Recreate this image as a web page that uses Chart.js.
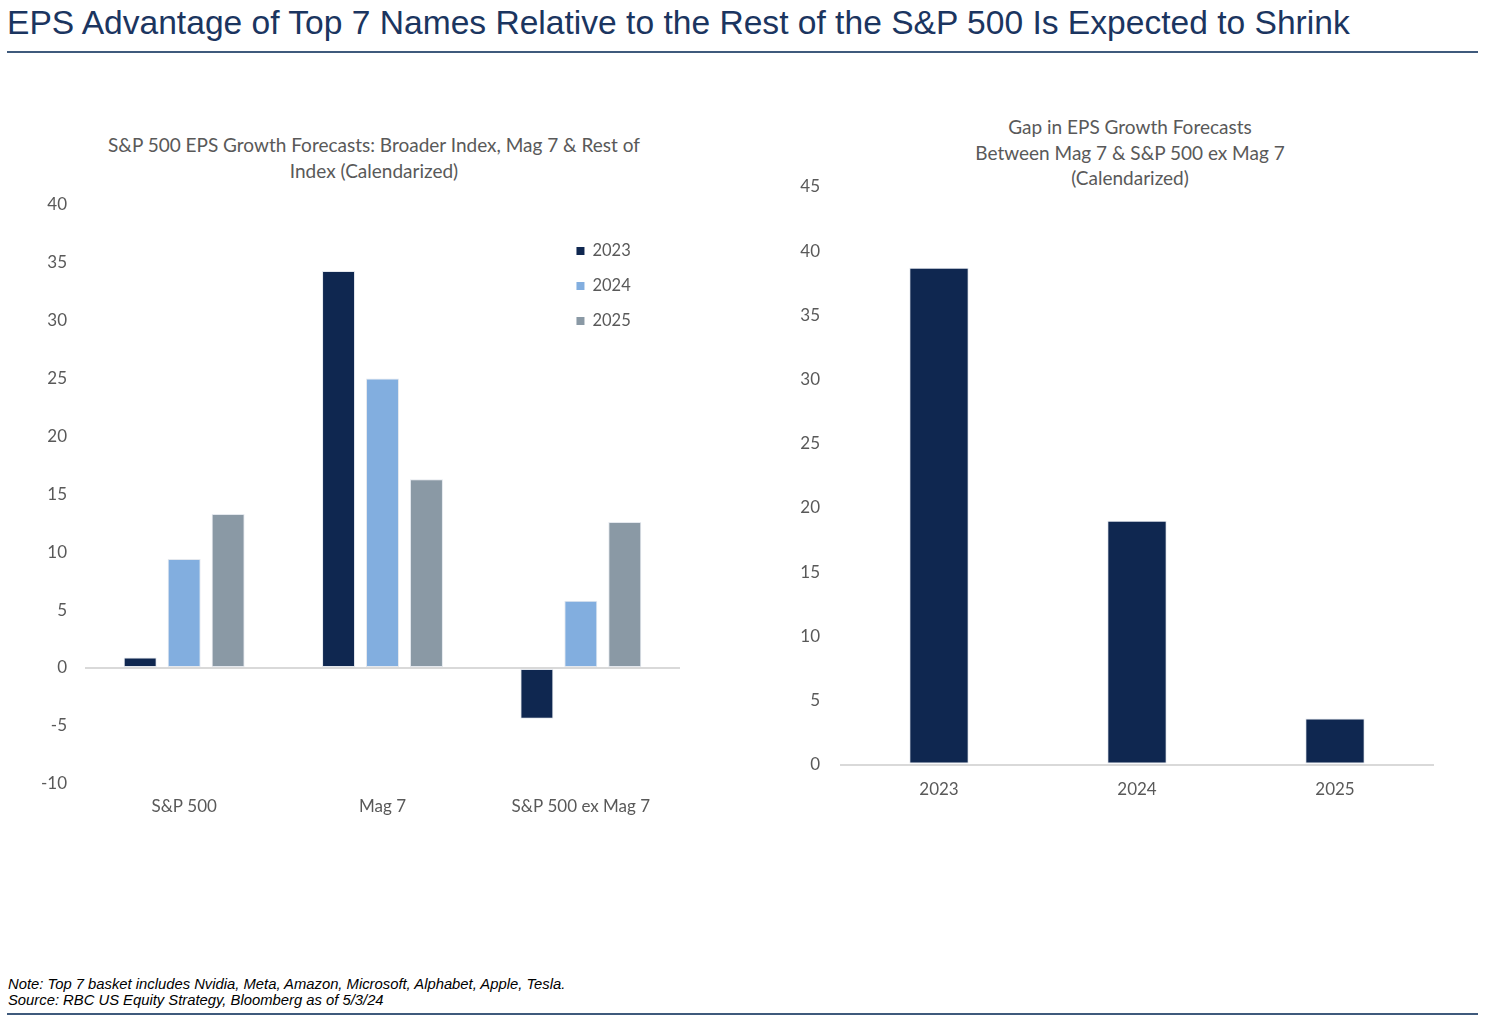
<!DOCTYPE html>
<html>
<head>
<meta charset="utf-8">
<script src="https://cdn.jsdelivr.net/npm/chart.js@4"></script>
<style>
  body { margin: 0; background: #fff; width: 1510px; height: 1022px; position: relative; overflow: hidden; }
  h1 { position: absolute; left: 7px; top: 3px; margin: 0; font: normal 33.6px/40px "Liberation Sans", Arial, sans-serif; color: #1b3560; }
  .rule { position: absolute; left: 7px; width: 1471px; height: 2px; background: #3f5a7c; }
  .box { position: absolute; }
  .ctitle { position: absolute; width: 600px; text-align: center; font: 19px Lato, "Open Sans", sans-serif; color: #595959; }
  .note { position: absolute; left: 8px; top: 976px; font: italic 14.8px "Liberation Sans", Arial, sans-serif; color: #000; line-height: 16px; }
</style>
</head>
<body>
<h1>EPS Advantage of Top 7 Names Relative to the Rest of the S&amp;P 500 Is Expected to Shrink</h1>
<div class="rule" style="top:51px"></div>
<div class="ctitle" style="left:74px;top:132px;line-height:26px">S&amp;P 500 EPS Growth Forecasts: Broader Index, Mag 7 &amp; Rest of<br>Index (Calendarized)</div>
<div class="ctitle" style="left:830px;top:114px;line-height:25.5px">Gap in EPS Growth Forecasts<br>Between Mag 7 &amp; S&amp;P 500 ex Mag 7<br>(Calendarized)</div>
<div class="box" style="left:0;top:100px;width:700px;height:740px"><canvas id="growth"></canvas></div>
<div class="box" style="left:760px;top:100px;width:740px;height:740px"><canvas id="gap"></canvas></div>
<div class="note">Note: Top 7 basket includes Nvidia, Meta, Amazon, Microsoft, Alphabet, Apple, Tesla.<br>Source: RBC US Equity Strategy, Bloomberg as of 5/3/24</div>
<div class="rule" style="top:1013px"></div>
<script>
const groups = ['S&P 500', 'Mag 7', 'S&P 500 ex Mag 7'];
const years = ['2023', '2024', '2025'];
const eps2023 = [0.9, 34.3, -4.4];
const eps2024 = [9.4, 25.0, 5.8];
const eps2025 = [13.3, 16.3, 12.6];
const gapYears = ['2023', '2024', '2025'];
const gapValues = [38.7, 19.0, 3.6];

const NAVY = '#0f2750';
const LIGHT = '#82aedf';
const GREY = '#8a99a5';
const TEXT = '#595959';
const FONT = 'Lato, "Open Sans", sans-serif';

Chart.defaults.font.family = FONT;
Chart.defaults.color = TEXT;
Chart.defaults.animation = false;

// only the zero line is drawn on the value axis
const zeroGrid = {
  drawTicks: false,
  lineWidth: 2,
  color: ctx => (ctx.tick && ctx.tick.value === 0 ? '#d9d9d9' : 'rgba(0,0,0,0)'),
};

// vertical legend sitting inside the plot area, top right
const insideLegend = {
  id: 'insideLegend',
  afterDraw(chart) {
    const { ctx, chartArea } = chart;
    const x = chartArea.left + (chartArea.right - chartArea.left) * 0.826;
    ctx.save();
    ctx.font = '16.5px ' + FONT;
    ctx.textBaseline = 'middle';
    chart.data.datasets.forEach((ds, i) => {
      const y = chartArea.top + 46 + i * 35;
      ctx.fillStyle = ds.backgroundColor;
      ctx.fillRect(x, y - 4, 8, 8);
      ctx.fillStyle = TEXT;
      ctx.fillText(ds.label, x + 16, y);
    });
    ctx.restore();
  },
};

new Chart(document.getElementById('growth'), {
  type: 'bar',
  data: {
    labels: groups,
    datasets: [
      { label: years[0], data: eps2023, backgroundColor: NAVY },
      { label: years[1], data: eps2024, backgroundColor: LIGHT },
      { label: years[2], data: eps2025, backgroundColor: GREY },
    ].map(d => ({ ...d, borderColor: '#e4e8ee', borderWidth: 1, borderSkipped: false, categoryPercentage: 0.665, barPercentage: 0.75 })),
  },
  options: {
    responsive: true,
    maintainAspectRatio: false,
    layout: { padding: { left: 0, right: 20, top: 105, bottom: 10 } },
    plugins: {
      legend: { display: false },
      tooltip: { enabled: false },
    },
    scales: {
      x: {
        grid: { display: false, drawTicks: false },
        border: { display: false },
        ticks: { font: { size: 17 }, padding: 13 },
      },
      y: {
        min: -10,
        max: 40,
        afterFit: s => { s.width = 85; },
        grid: zeroGrid,
        border: { display: false },
        ticks: { stepSize: 5, font: { size: 17 }, padding: 18 },
      },
    },
  },
  plugins: [insideLegend],
});

new Chart(document.getElementById('gap'), {
  type: 'bar',
  data: {
    labels: gapYears,
    datasets: [{
      label: 'Gap',
      data: gapValues,
      backgroundColor: NAVY,
      borderColor: '#e4e8ee',
      borderWidth: 1,
      borderSkipped: false,
      categoryPercentage: 1,
      barPercentage: 0.3,
    }],
  },
  options: {
    responsive: true,
    maintainAspectRatio: false,
    layout: { padding: { left: 0, right: 66, top: 87, bottom: 25 } },
    plugins: {
      legend: { display: false },
      tooltip: { enabled: false },
    },
    scales: {
      x: {
        grid: { display: false, drawTicks: false },
        border: { display: false },
        ticks: { font: { size: 17 }, padding: 15 },
      },
      y: {
        min: 0,
        max: 45,
        afterFit: s => { s.width = 80; },
        grid: zeroGrid,
        border: { display: false },
        ticks: { stepSize: 5, font: { size: 17 }, padding: 20 },
      },
    },
  },
});
</script>
</body>
</html>
